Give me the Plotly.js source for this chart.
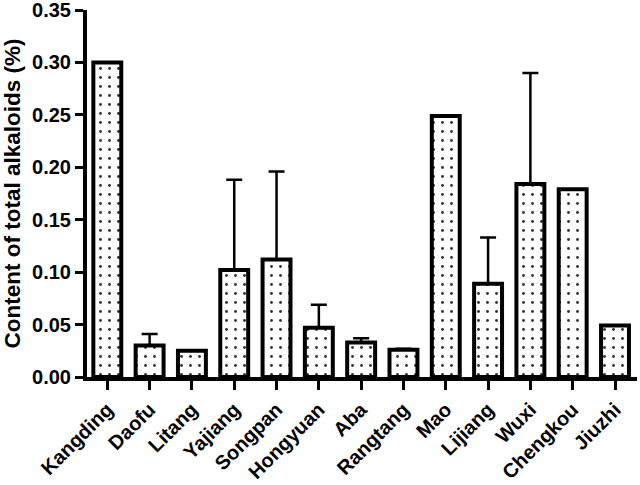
<!DOCTYPE html>
<html>
<head>
<script src="https://cdn.plot.ly/plotly-3.0.1.min.js"></script>
<style>body{margin:0;background:#fff}#plot{width:640px;height:485px}</style>
</head>
<body>
<div id="plot"></div>
<script>
// sites and total alkaloid content (%), upper error bar tops
let sites = ["Kangding", "Daofu", "Litang", "Yajiang", "Songpan", "Hongyuan", "Aba",
    "Rangtang", "Mao", "Lijiang", "Wuxi", "Chengkou", "Jiuzhi"];
let content = [0.300, 0.030, 0.025, 0.102, 0.112, 0.047, 0.033, 0.026, 0.249, 0.089, 0.184, 0.179, 0.049];
let errTop = [0.300, 0.041, 0.025, 0.188, 0.196, 0.069, 0.037, 0.027, 0.249, 0.133, 0.290, 0.179, 0.049];
let yTicks = [0, 0.05, 0.10, 0.15, 0.20, 0.25, 0.30, 0.35];

let errPlus = errTop.map((t, i) => Math.max(0, t - content[i]));

let trace = {
    x: sites,
    y: content,
    type: "bar",
    width: 0.66,
    marker: {
        color: "white",
        line: {color: "black", width: 4},
        pattern: {shape: ".", fgcolor: "#333", bgcolor: "white", size: 9, solidity: 0.08}
    },
    error_y: {
        type: "data",
        symmetric: false,
        array: errPlus,
        arrayminus: errPlus.map(() => 0),
        color: "black",
        thickness: 2.5,
        width: 8
    },
    hoverinfo: "skip"
};

let fam = "Liberation Sans, Arial, sans-serif";

let layout = {
    width: 640,
    height: 485,
    margin: {l: 87, r: 3, t: 10, b: 108},
    paper_bgcolor: "white",
    plot_bgcolor: "white",
    showlegend: false,
    font: {family: fam, color: "black"},
    xaxis: {
        range: [-0.48, 12.52],
        tickangle: -45,
        tickfont: {family: fam, size: 20, color: "black", weight: "bold"},
        ticks: "outside",
        ticklen: 9,
        tickwidth: 3,
        tickcolor: "black",
        showline: true,
        linecolor: "black",
        linewidth: 4,
        showgrid: false,
        zeroline: false,
        fixedrange: true
    },
    yaxis: {
        range: [0, 0.35],
        tickvals: yTicks,
        tickformat: ".2f",
        tickfont: {family: fam, size: 20, color: "black", weight: "bold"},
        ticklabeloverflow: "allow",
        ticks: "outside",
        ticklen: 8,
        tickwidth: 3,
        tickcolor: "black",
        showline: true,
        linecolor: "black",
        linewidth: 4,
        showgrid: false,
        zeroline: false,
        title: {
            text: "Content of total alkaloids (%)",
            font: {family: fam, size: 22.5, color: "black", weight: "bold"},
            standoff: 9
        },
        fixedrange: true
    }
};

Plotly.newPlot("plot", [trace], layout, {displayModeBar: false, staticPlot: true});
</script>
</body>
</html>
